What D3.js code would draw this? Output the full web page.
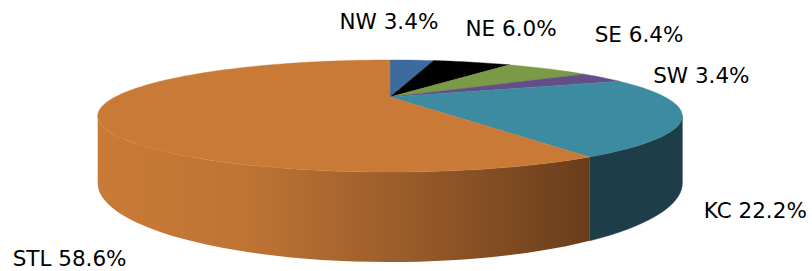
<!DOCTYPE html>
<html>
<head>
<meta charset="utf-8">
<script src="https://cdn.jsdelivr.net/npm/d3@7"></script>
<style>
  body { margin: 0; background: #fff; }
  svg { display: block; }
  .label { font-family: Tahoma, "DejaVu Sans", Verdana, sans-serif; font-size: 21.5px; fill: #000; }
</style>
</head>
<body>
<div id="chart"></div>
<script>
// data
var regions = ["NW", "NE", "SE", "SW", "KC", "STL"];
var shares = [3.4, 6.0, 6.4, 3.4, 22.2, 58.6];

var topColors = ["#3d6a9f", "#000000", "#7b9a45", "#644e87", "#3c8ba1", "#c97a37"];
var sideColors = ["#1d3450", "#000000", "#3d4d22", "#322744", "#1d3d48", "#c97a37"];

// label nudges from the rim point at each slice's middle angle (layout only)
var labelNudge = [[-23, -39], [39, -34], [91, -35], [99, -2], [73, 95], [-29, 147]];

var Pie3D = {
  settings: {
    width: 812,
    height: 271,
    cx: 390,      // apex of the pie on screen
    cy: 97,
    a: 275,       // horizontal radius before perspective
    b: 49.6,      // vertical radius before perspective
    k: 0.339,     // perspective strength
    thick: 59.5,  // side height before perspective
    steps: 80
  },

  init: function(container) {
    Pie3D.svg = d3.select(container).append("svg")
      .attr("width", Pie3D.settings.width)
      .attr("height", Pie3D.settings.height);

    Pie3D.data = regions.map(function(r, i) { return { region: r, value: shares[i], i: i }; });
    Pie3D.arcs = d3.pie().sort(null).value(function(d) { return d.value; })(Pie3D.data);

    Pie3D.topColor = d3.scaleOrdinal().domain(regions).range(topColors);
    Pie3D.sideColor = d3.scaleOrdinal().domain(regions).range(sideColors);

    Pie3D.createDefs();
    Pie3D.drawSides();
    Pie3D.drawTops();
    Pie3D.drawLabels();
  },

  // project angle phi (clockwise from the far side) on the unit circle
  project: function(phi, drop) {
    var s = Pie3D.settings;
    var x = Math.sin(phi), y = -Math.cos(phi);
    var w = 1 - s.k * y;
    return [s.cx + s.a * x / w, s.cy + s.b * y / w + (drop || 0) / w];
  },

  arcPoints: function(a0, a1, drop) {
    var n = Math.max(2, Math.ceil(Pie3D.settings.steps * (a1 - a0) / Math.PI));
    return d3.range(n + 1).map(function(j) {
      return Pie3D.project(a0 + (a1 - a0) * j / n, drop);
    });
  },

  createDefs: function() {
    var defs = Pie3D.svg.append("defs");
    var g = defs.append("linearGradient")
      .attr("id", "stlSide")
      .attr("gradientUnits", "userSpaceOnUse")
      .attr("x1", 98).attr("x2", 590).attr("y1", 0).attr("y2", 0);
    [[0, "#c97a37"], [0.3, "#bf7434"], [0.65, "#965a2a"], [1, "#693d1a"]].forEach(function(st) {
      g.append("stop").attr("offset", st[0]).attr("stop-color", st[1]);
    });
  },

  drawSides: function() {
    var s = Pie3D.settings;
    // silhouette of the side wall: where sin(theta) = k
    var vis0 = Math.PI / 2 + Math.asin(s.k);
    var vis1 = 3 * Math.PI / 2 - Math.asin(s.k);
    var line = d3.line();

    Pie3D.svg.append("g").selectAll("path")
      .data(Pie3D.arcs.filter(function(d) { return d.endAngle > vis0 && d.startAngle < vis1; }))
      .enter().append("path")
      .attr("d", function(d) {
        var a0 = Math.max(d.startAngle, vis0), a1 = Math.min(d.endAngle, vis1);
        var topEdge = Pie3D.arcPoints(a0, a1, 0);
        var bottomEdge = Pie3D.arcPoints(a0, a1, s.thick).reverse();
        return line(topEdge.concat(bottomEdge)) + "Z";
      })
      .style("fill", function(d) { return d.data.region === "STL" ? "url(#stlSide)" : Pie3D.sideColor(d.data.region); })
      .style("stroke", function(d) { return d.data.region === "STL" ? "none" : Pie3D.sideColor(d.data.region); })
      .style("stroke-width", 0.5);
  },

  drawTops: function() {
    var s = Pie3D.settings;
    var line = d3.line();
    Pie3D.svg.append("g").selectAll("path")
      .data(Pie3D.arcs)
      .enter().append("path")
      .attr("d", function(d) {
        return line([[s.cx, s.cy]].concat(Pie3D.arcPoints(d.startAngle, d.endAngle, 0))) + "Z";
      })
      .style("fill", function(d) { return Pie3D.topColor(d.data.region); })
      .style("stroke", function(d) { return Pie3D.topColor(d.data.region); })
      .style("stroke-width", 0.4);
  },

  drawLabels: function() {
    var fmt = d3.format(".1f");
    Pie3D.svg.append("g").selectAll("text")
      .data(Pie3D.arcs)
      .enter().append("text")
      .attr("class", "label")
      .attr("text-anchor", "middle")
      .attr("dy", "0.36em")
      .attr("x", function(d) {
        var p = Pie3D.project((d.startAngle + d.endAngle) / 2, 0);
        return p[0] + labelNudge[d.data.i][0];
      })
      .attr("y", function(d) {
        var p = Pie3D.project((d.startAngle + d.endAngle) / 2, 0);
        return p[1] + labelNudge[d.data.i][1];
      })
      .text(function(d) { return d.data.region + " " + fmt(d.data.value) + "%"; });
  }
};

Pie3D.init("#chart");
</script>
</body>
</html>
